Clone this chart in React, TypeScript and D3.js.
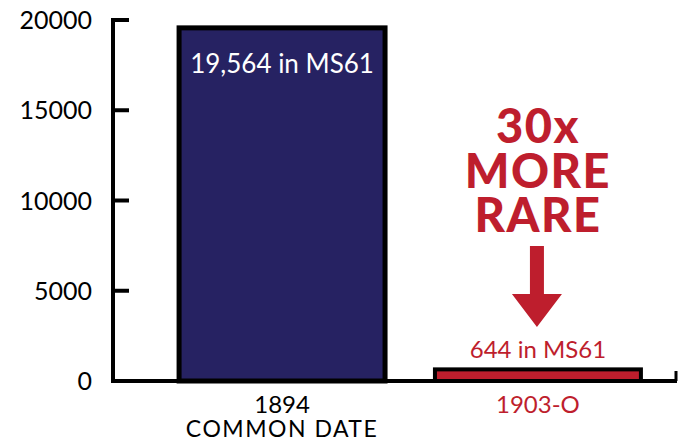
import React, { useEffect, useRef } from "react";
import * as d3 from "d3";

const WIDTH = 678;
const HEIGHT = 443;

const categories = ["1894", "1903-O"];
const subLabels = ["COMMON DATE", ""];
const values = [19564, 644];
const valueLabels = ["19,564 in MS61", "644 in MS61"];
const yTicks = [0, 5000, 10000, 15000, 20000];
const calloutLines = ["30x", "MORE", "RARE"];

const NAVY = "#262262";
const RED = "#be1e2d";
const FONT = "Lato, 'Open Sans', sans-serif";

const App: React.FC = () => {
  const ref = useRef<SVGSVGElement>(null);

  useEffect(() => {
    const container = ref.current;
    if (!container) return;

    const svg = d3.select(container);
    svg.selectAll("*").remove();

    const x = d3
      .scaleBand()
      .domain(categories)
      .range([154, 666])
      .paddingInner(0.195)
      .paddingOuter(0.098);

    const y = d3.scaleLinear().domain([0, 20000]).range([381, 20]);

    const axisX = 113;

    // y axis, ticks pointing into the plot
    svg
      .append("line")
      .attr("x1", axisX)
      .attr("x2", axisX)
      .attr("y1", y(20000) - 2)
      .attr("y2", y(0) + 2)
      .attr("stroke", "#000")
      .attr("stroke-width", 4);

    svg
      .selectAll(".ytick")
      .data(yTicks)
      .enter()
      .append("line")
      .attr("x1", axisX)
      .attr("x2", axisX + 16)
      .attr("y1", (d) => y(d))
      .attr("y2", (d) => y(d))
      .attr("stroke", "#000")
      .attr("stroke-width", 4);

    svg
      .selectAll(".ylabel")
      .data(yTicks)
      .enter()
      .append("text")
      .attr("x", axisX - 21)
      .attr("y", (d) => y(d) + 9)
      .attr("text-anchor", "end")
      .attr("font-family", FONT)
      .attr("font-size", 25)
      .attr("fill", "#000")
      .text((d) => String(d));

    // bars
    svg
      .selectAll(".bar")
      .data(values)
      .enter()
      .append("rect")
      .attr("x", (_, i) => x(categories[i])!)
      .attr("y", (d) => y(d))
      .attr("width", x.bandwidth())
      .attr("height", (d) => y(0) - y(d))
      .attr("fill", (_, i) => (i === 0 ? NAVY : RED))
      .attr("stroke", "#000")
      .attr("stroke-width", (_, i) => (i === 0 ? 5 : 4));

    // x axis baseline with end tick
    svg
      .append("line")
      .attr("x1", axisX - 2)
      .attr("x2", 677)
      .attr("y1", y(0))
      .attr("y2", y(0))
      .attr("stroke", "#000")
      .attr("stroke-width", 4);
    svg
      .append("line")
      .attr("x1", 676)
      .attr("x2", 676)
      .attr("y1", y(0))
      .attr("y2", y(0) - 10)
      .attr("stroke", "#000")
      .attr("stroke-width", 3);

    // category labels (two lines in one text element)
    const xlabels = svg
      .selectAll(".xlabel")
      .data(categories)
      .enter()
      .append("text")
      .attr("text-anchor", "middle")
      .attr("font-family", FONT)
      .attr("fill", (_, i) => (i === 0 ? "#000" : RED));

    xlabels
      .append("tspan")
      .attr("x", (d) => x(d)! + x.bandwidth() / 2)
      .attr("y", 413)
      .attr("font-size", 24)
      .text((d) => d);

    xlabels
      .filter((_, i) => subLabels[i] !== "")
      .append("tspan")
      .attr("x", (d) => x(d)! + x.bandwidth() / 2)
      .attr("y", 437)
      .attr("font-size", 23)
      .attr("letter-spacing", 1.5)
      .text((d) => subLabels[categories.indexOf(d)]);

    // value labels
    const c0 = x(categories[0])! + x.bandwidth() / 2;
    const c1 = x(categories[1])! + x.bandwidth() / 2;

    svg
      .append("text")
      .attr("x", c0)
      .attr("y", 73)
      .attr("text-anchor", "middle")
      .attr("font-family", FONT)
      .attr("font-size", 26)
      .attr("fill", "#fff")
      .text(valueLabels[0]);

    svg
      .append("text")
      .attr("x", c1)
      .attr("y", y(values[1]) - 11)
      .attr("text-anchor", "middle")
      .attr("font-family", FONT)
      .attr("font-size", 24)
      .attr("fill", RED)
      .text(valueLabels[1]);

    // callout, one text block with three lines
    svg
      .append("text")
      .attr("text-anchor", "middle")
      .attr("font-family", FONT)
      .attr("font-weight", 900)
      .attr("font-size", 47)
      .attr("letter-spacing", 1.5)
      .attr("fill", RED)
      .selectAll("tspan")
      .data(calloutLines)
      .enter()
      .append("tspan")
      .attr("x", c1)
      .attr("y", (_, i) => 143 + i * 44.5)
      .text((d) => d);

    // arrow
    const ax = c1 - 1;
    svg
      .append("path")
      .attr(
        "d",
        `M${ax - 7},246 L${ax + 7},246 L${ax + 7},294 L${ax + 25},294 L${ax},327 L${ax - 25},294 L${ax - 7},294 Z`
      )
      .attr("fill", RED);
  }, [ref]);

  return (
    <svg
      ref={ref}
      width={WIDTH}
      height={HEIGHT}
      style={{ position: "absolute", left: 0, top: 0, background: "#fff" }}
    />
  );
};

export default App;
